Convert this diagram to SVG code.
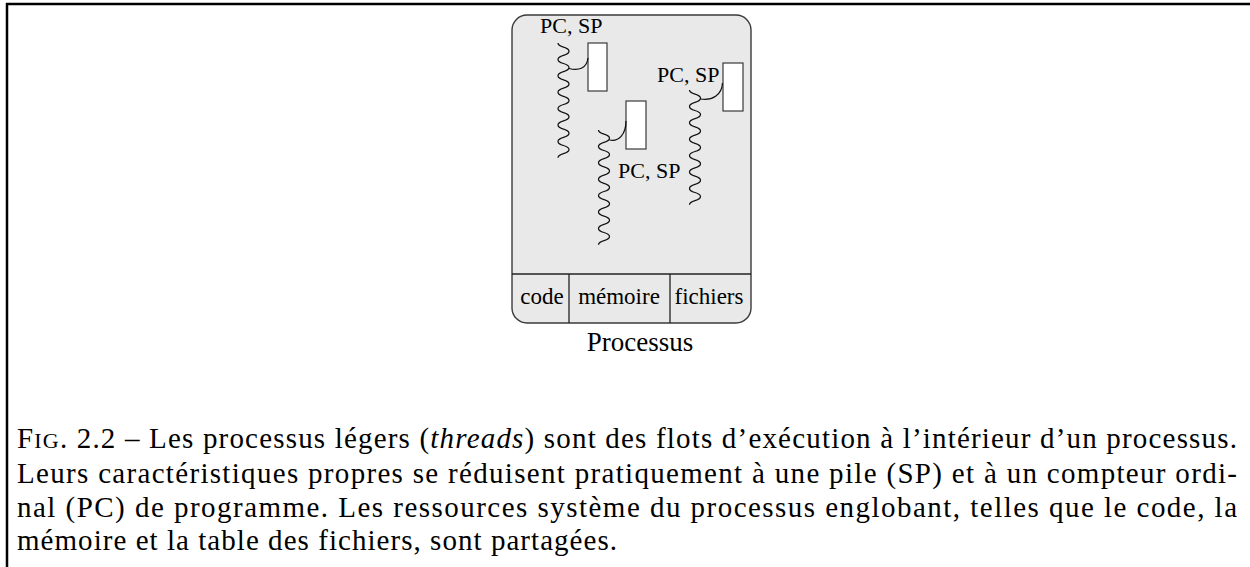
<svg xmlns="http://www.w3.org/2000/svg" width="1250" height="567" viewBox="0 0 1250 567">
<style>
.frame{stroke:#000;stroke-width:2.5;fill:none}
.box{fill:#e9e9e9;stroke:#3a3a3a;stroke-width:1.4}
.div{stroke:#222;stroke-width:1.3;fill:none}
.stack{fill:#fff;stroke:#3a3a3a;stroke-width:1.2}
.thr{fill:none;stroke:#111;stroke-width:1.25}
.lbl{font-family:"Liberation Serif",serif;font-size:22px;fill:#000}
.cell{font-family:"Liberation Serif",serif;font-size:23px;fill:#000;text-anchor:middle}
.proc{font-family:"Liberation Serif",serif;font-size:27px;fill:#000;text-anchor:middle}
.cap{font-family:"Liberation Serif",serif;font-size:29px;fill:#000}
</style>
<defs>
<path id="wave" d="M0,0 c0,4.9 11,3.3 11,8.2 s-11,3.3 -11,8.2 s11,3.3 11,8.2 s-11,3.3 -11,8.2 s11,3.3 11,8.2 s-11,3.3 -11,8.2 s11,3.3 11,8.2 s-11,3.3 -11,8.2 s11,3.3 11,8.2 s-11,3.3 -11,8.2 s11,3.3 11,8.2 s-11,3.3 -11,8.2 s11,3.3 11,8.2 s-11,3.3 -11,8.2"/>
</defs>
<g id="frame">
<line class="frame" x1="6" y1="4" x2="1250" y2="4"/>
<line class="frame" x1="7" y1="3" x2="7" y2="567"/>
</g>
<g id="processus">
<rect class="box" x="512" y="15" width="239" height="308" rx="15" ry="15"/>
<line class="div" x1="512" y1="274" x2="751" y2="274"/>
<line class="div" x1="569" y1="274" x2="569" y2="323"/>
<line class="div" x1="670" y1="274" x2="670" y2="323"/>
<text class="cell" x="542" y="304">code</text>
<text class="cell" x="619" y="304">mémoire</text>
<text class="cell" x="709" y="304">fichiers</text>
<text class="proc" x="640" y="351">Processus</text>
</g>
<g id="thread1">
<use href="#wave" class="thr" transform="translate(558,43)"/>
<rect class="stack" x="588" y="43" width="19" height="48"/>
<text class="lbl" x="540" y="33">PC, SP</text>
</g>
<g id="thread2">
<use href="#wave" class="thr" transform="translate(598.5,130)"/>
<rect class="stack" x="626" y="101" width="20" height="48"/>
<text class="lbl" x="618" y="178">PC, SP</text>
</g>
<g id="thread3">
<use href="#wave" class="thr" transform="translate(689.5,90)"/>
<rect class="stack" x="723" y="63" width="20" height="48"/>
<text class="lbl" x="657" y="82">PC, SP</text>
</g>
<g id="connectors">
<path class="thr" d="M569,68.5 C579,71 587,68 588,58"/>
<path class="thr" d="M609.5,140 C619,142 626,134 626,121"/>
<path class="thr" d="M700.5,99 C712,101 722,95 722.5,83"/>
</g>
<g id="caption">
<text class="cap" x="17" y="448" textLength="1220" lengthAdjust="spacing">F<tspan font-size="22">IG</tspan>. 2.2 – Les processus légers (<tspan font-style="italic">threads</tspan>) sont des flots d’exécution à l’intérieur d’un processus.</text>
<text class="cap" x="17" y="483" textLength="1220" lengthAdjust="spacing">Leurs caractéristiques propres se réduisent pratiquement à une pile (SP) et à un compteur ordi-</text>
<text class="cap" x="17" y="517" textLength="1220" lengthAdjust="spacing">nal (PC) de programme. Les ressources système du processus englobant, telles que le code, la</text>
<text class="cap" x="17" y="550" textLength="600" lengthAdjust="spacing">mémoire et la table des fichiers, sont partagées.</text>
</g>
</svg>
